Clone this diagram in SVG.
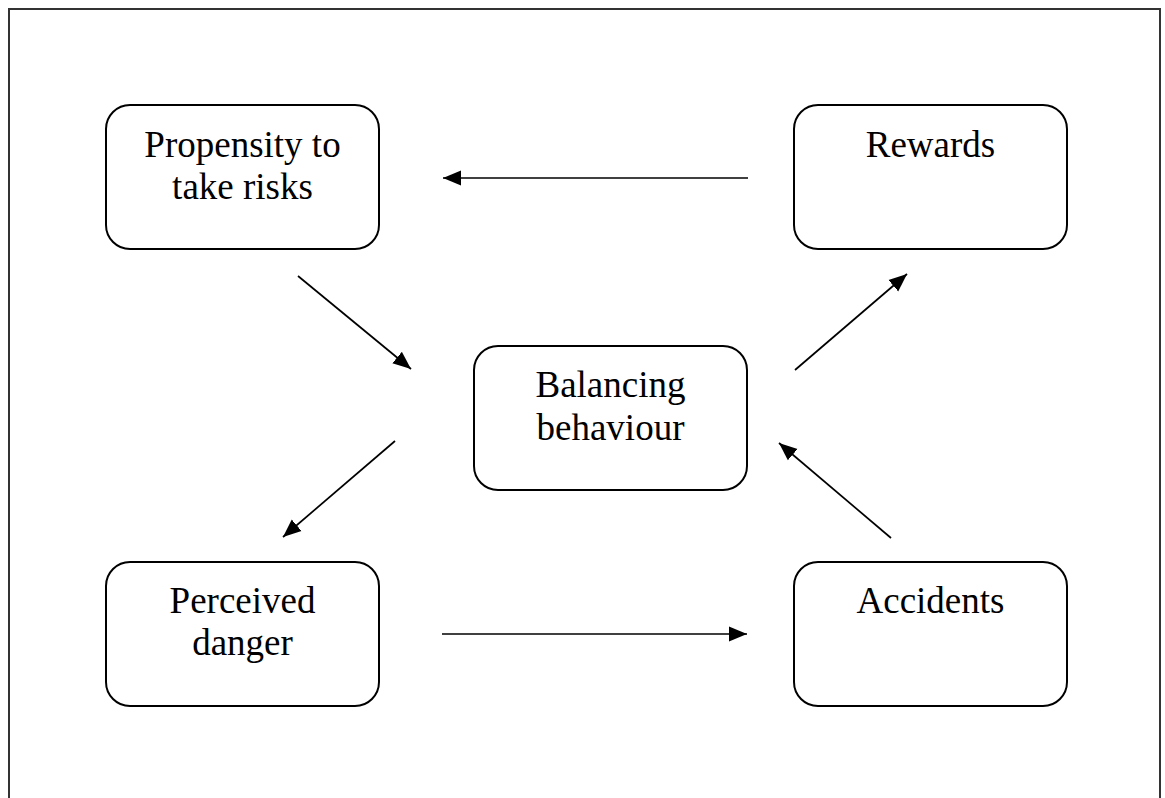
<svg xmlns="http://www.w3.org/2000/svg" width="1165" height="798" viewBox="0 0 1165 798">
  <defs>
    <marker id="head" markerUnits="userSpaceOnUse" markerWidth="19" markerHeight="16" viewBox="0 0 19 16" refX="18" refY="8" orient="auto">
      <path d="M0,0.5 L18,8 L0,15.5 Z" fill="#000"/>
    </marker>
    <style>
      .frame { fill: none; stroke: #333; stroke-width: 2; }
      .box { fill: #fff; stroke: #000; stroke-width: 2; }
      .label { font-family: "Liberation Serif", "Times New Roman", serif; font-size: 37px; fill: #000; text-anchor: middle; }
      .link { stroke: #000; stroke-width: 1.7; fill: none; marker-end: url(#head); }
    </style>
  </defs>
  <rect width="1165" height="798" fill="#fff"/>
  <!-- outer border, open at the bottom -->
  <path class="frame" d="M9,800 L9,9 L1160,9 L1160,800"/>

  <g id="propensity">
    <rect class="box" x="106" y="105" width="273" height="144" rx="24"/>
    <text class="label" x="242.5" y="157">Propensity to</text>
    <text class="label" x="242.5" y="199">take risks</text>
  </g>
  <g id="rewards">
    <rect class="box" x="794" y="105" width="273" height="144" rx="24"/>
    <text class="label" x="930.5" y="157">Rewards</text>
  </g>
  <g id="balancing">
    <rect class="box" x="474" y="346" width="273" height="144" rx="24"/>
    <text class="label" x="610.5" y="397">Balancing</text>
    <text class="label" x="610.5" y="440">behaviour</text>
  </g>
  <g id="perceived">
    <rect class="box" x="106" y="562" width="273" height="144" rx="24"/>
    <text class="label" x="242.5" y="613">Perceived</text>
    <text class="label" x="242.5" y="655">danger</text>
  </g>
  <g id="accidents">
    <rect class="box" x="794" y="562" width="273" height="144" rx="24"/>
    <text class="label" x="930.5" y="613">Accidents</text>
  </g>

  <g id="connectors">
    <line class="link" x1="748" y1="178" x2="443" y2="178"/>
    <line class="link" x1="298" y1="276" x2="411" y2="369"/>
    <line class="link" x1="395" y1="441" x2="283" y2="537"/>
    <line class="link" x1="442" y1="634" x2="747" y2="634"/>
    <line class="link" x1="891" y1="538" x2="779" y2="443"/>
    <line class="link" x1="795" y1="370" x2="907" y2="274"/>
  </g>
</svg>
